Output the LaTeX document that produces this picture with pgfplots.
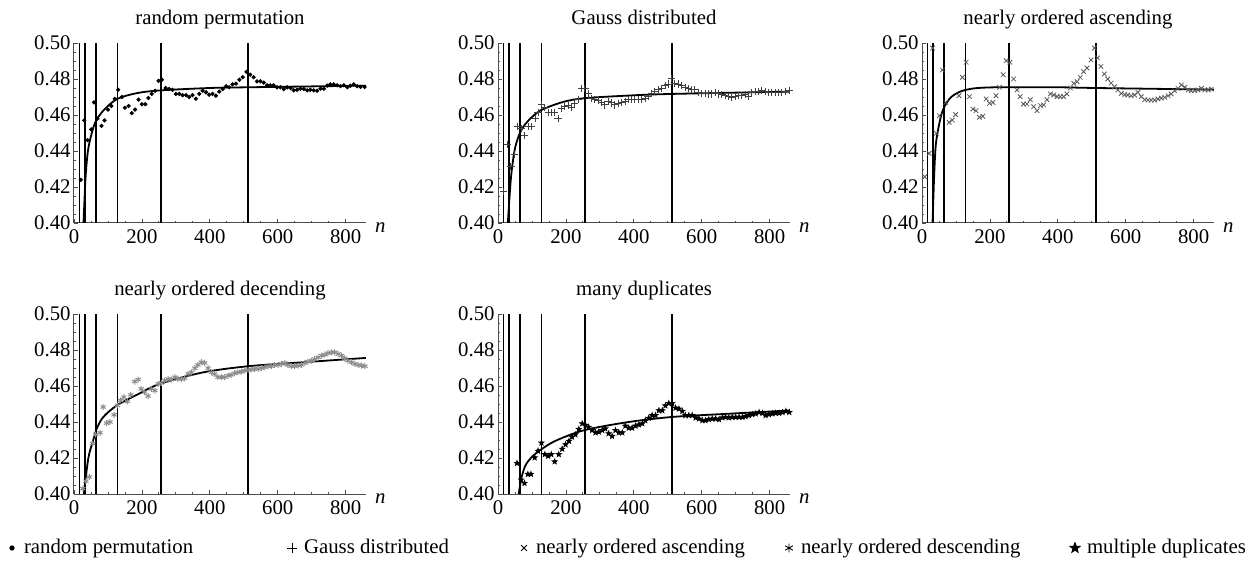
\documentclass[border=0pt]{standalone}
\usepackage{fontspec}
\setmainfont{Liberation Serif}
\usepackage{pgfplots}
\pgfplotsset{compat=1.18}
\usetikzlibrary{plotmarks}

\pgfdeclareplotmark{fstar}{%
  \pgfpathmoveto{\pgfpointpolar{90}{\pgfplotmarksize}}%
  \pgfpathlineto{\pgfpointpolar{126}{0.42\pgfplotmarksize}}%
  \pgfpathlineto{\pgfpointpolar{162}{\pgfplotmarksize}}%
  \pgfpathlineto{\pgfpointpolar{198}{0.42\pgfplotmarksize}}%
  \pgfpathlineto{\pgfpointpolar{234}{\pgfplotmarksize}}%
  \pgfpathlineto{\pgfpointpolar{270}{0.42\pgfplotmarksize}}%
  \pgfpathlineto{\pgfpointpolar{306}{\pgfplotmarksize}}%
  \pgfpathlineto{\pgfpointpolar{342}{0.42\pgfplotmarksize}}%
  \pgfpathlineto{\pgfpointpolar{18}{\pgfplotmarksize}}%
  \pgfpathlineto{\pgfpointpolar{54}{0.42\pgfplotmarksize}}%
  \pgfpathclose\pgfusepathqfillstroke}

\newcommand{\fs}{\fontsize{10.4}{12}\selectfont}

\pgfplotsset{
  every axis title/.style={at={(0.5,1)}, anchor=base, yshift=9pt, font=\fs},
  panel/.style={
    scale only axis, width=146pt, height=90pt,
    xmin=0, xmax=860, ymin=0.40, ymax=0.50,
    axis lines=left,
    axis line style={-, black!70, line width=0.5pt},
    xtick={0,200,400,600,800}, minor x tick num=3,
    ytick={0.40,0.42,0.44,0.46,0.48,0.50}, minor y tick num=3,
    tick align=inside, major tick length=2pt, minor tick length=1.2pt,
    tick style={black!70, line width=0.4pt},
    /pgf/number format/assume math mode=true,
    yticklabel style={/pgf/number format/fixed, /pgf/number format/fixed zerofill, /pgf/number format/precision=2, inner xsep=1.5pt},
    ticklabel style={font=\fs},
    extra x ticks={16,32,64,128,256,512}, extra x tick labels={},
    extra x tick style={grid=major, major grid style={black, line width=0.9pt}, major tick length=0pt},
    xlabel={\textit{n}},
    xlabel style={at={(rel axis cs:1,0)}, anchor=west, xshift=1pt, yshift=-2.5pt, font=\fs},
  },
  fit/.style={black, line width=0.9pt, smooth, no marks},
}

\begin{document}
\begin{tikzpicture}
\useasboundingbox (0,0) rectangle (627.5pt,281.5pt);

% ---------- Panel 1 ----------
\begin{axis}[panel, at={(37pt,170pt)}, anchor=south west, title={random permutation}]
\addplot[only marks, mark=*, mark size=0.85pt, black] coordinates {
(20,0.424)(30,0.457)(40,0.446)(51,0.452)(59,0.467)(69,0.458)(81,0.454)(90,0.457)(100,0.463)(110,0.465)
(120,0.469)(130,0.474)(141,0.470)(150,0.464)(161,0.465)(170,0.461)(180,0.463)(190,0.4685)(200,0.466)(210,0.466)
(219,0.4694)(229,0.4717)(239,0.4735)(249,0.479)(259,0.4796)(270,0.475)(280,0.4744)(290,0.474)(300,0.4717)(310,0.4717)
(320,0.471)(330,0.471)(339,0.470)(349,0.471)(359,0.469)(369,0.4717)(379,0.4735)(389,0.4726)(398,0.4713)(408,0.4717)
(418,0.4707)(428,0.473)(438,0.4744)(448,0.476)(457,0.4754)(467,0.477)(477,0.4774)(487,0.4796)(497,0.481)(508,0.484)
(519,0.4824)(529,0.481)(539,0.4787)(549,0.4787)(559,0.478)(569,0.4765)(578,0.4765)(588,0.4765)(598,0.4754)(608,0.4754)
(618,0.4744)(628,0.4754)(638,0.475)(647,0.4737)(657,0.474)(667,0.4746)(677,0.4744)(687,0.4737)(696,0.474)(706,0.4737)
(716,0.4735)(726,0.4746)(736,0.4746)(746,0.4763)(755,0.477)(765,0.477)(775,0.4765)(785,0.476)(795,0.4765)(805,0.4754)
(814,0.4763)(824,0.477)(834,0.476)(844,0.4756)(856,0.4756)};
\addplot[fit] coordinates {(28,0.40)(34,0.425)(41,0.44)(51,0.449)(64,0.4565)(89,0.463)(128,0.469)(187,0.4722)(256,0.4737)(400,0.475)(512,0.4754)(860,0.4763)};
\end{axis}

% ---------- Panel 2 ----------
\begin{axis}[panel, at={(249pt,170pt)}, anchor=south west, title={Gauss distributed}]
\addplot[only marks, mark=+, mark size=1.8pt, black!75, mark options={line width=0.45pt}] coordinates {
(17,0.4174)(29,0.4435)(38,0.4312)(48,0.438)(58,0.4537)(68,0.4527)(78,0.4487)(90,0.4538)(99,0.4538)(109,0.4579)
(118,0.4616)(128,0.4656)(138,0.4643)(148,0.4612)(157,0.4612)(167,0.4612)(177,0.4579)(187,0.4634)(197,0.4647)(207,0.4653)
(216,0.4643)(226,0.4662)(236,0.4686)(246,0.4748)(256,0.4745)(266,0.4717)(275,0.4693)(285,0.4686)(295,0.468)(305,0.4671)
(315,0.4656)(324,0.4675)(334,0.4667)(344,0.4656)(354,0.4662)(364,0.4671)(374,0.4675)(383,0.4686)(393,0.4684)(403,0.4684)
(413,0.4684)(423,0.4686)(433,0.469)(442,0.4704)(452,0.4721)(462,0.473)(472,0.4741)(482,0.4748)(492,0.4763)(501,0.4772)
(511,0.4804)(521,0.4776)(531,0.4772)(541,0.4763)(551,0.4754)(560,0.4745)(570,0.4741)(580,0.4741)(590,0.4726)(600,0.4721)
(610,0.4721)(619,0.4717)(629,0.4717)(639,0.4723)(649,0.4717)(659,0.4712)(669,0.4708)(678,0.4704)(688,0.4699)(698,0.4704)
(708,0.4708)(718,0.4708)(728,0.4712)(737,0.4704)(747,0.4726)(757,0.473)(767,0.473)(777,0.4736)(787,0.473)(796,0.4726)
(806,0.4723)(816,0.4723)(826,0.4726)(836,0.4726)(846,0.4732)(858,0.4736)};
\addplot[fit] coordinates {(29,0.40)(38,0.4248)(48,0.4395)(58,0.4468)(71,0.4524)(90,0.457)(125,0.4625)(189,0.4671)(253,0.4693)(385,0.4708)(511,0.4717)(860,0.473)};
\end{axis}

% ---------- Panel 3 ----------
\begin{axis}[panel, at={(461pt,170pt)}, anchor=south west, title={nearly ordered ascending}]
\addplot[only marks, mark=x, mark size=1.6pt, black!65, mark options={line width=0.4pt}] coordinates {
(8,0.4257)(21,0.4387)(31,0.4972)(42,0.4498)(51,0.4596)(60,0.485)(70,0.467)(80,0.4559)(89,0.4572)(99,0.4602)
(109,0.4707)(119,0.4809)(130,0.4893)(140,0.4702)(150,0.4633)(159,0.4624)(169,0.4587)(179,0.4593)(189,0.4689)(199,0.4665)
(209,0.467)(218,0.4707)(228,0.4754)(239,0.4824)(248,0.4902)(259,0.4893)(270,0.48)(280,0.4739)(289,0.4702)(299,0.4661)
(309,0.4661)(319,0.4685)(329,0.4646)(339,0.4624)(349,0.4652)(358,0.4656)(368,0.4685)(378,0.4717)(388,0.4711)(398,0.4702)
(407,0.4702)(417,0.4702)(427,0.4717)(437,0.475)(447,0.4776)(457,0.4785)(466,0.4809)(476,0.4841)(486,0.4861)(498,0.4906)
(508,0.4972)(517,0.4917)(527,0.487)(537,0.4828)(547,0.48)(557,0.4778)(567,0.4757)(577,0.4739)(587,0.472)(597,0.4713)
(606,0.4711)(616,0.4707)(626,0.4711)(636,0.4726)(646,0.4702)(656,0.4685)(666,0.4683)(675,0.4683)(685,0.4683)(695,0.4689)
(705,0.4694)(715,0.4698)(725,0.4707)(734,0.4717)(744,0.4735)(754,0.4748)(764,0.4767)(774,0.4754)(784,0.4739)(793,0.4735)
(803,0.4735)(813,0.4739)(823,0.4748)(833,0.4739)(843,0.4739)(852,0.4744)};
\addplot[fit] coordinates {(31,0.40)(36,0.4272)(40,0.442)(45,0.4494)(55,0.4587)(65,0.4643)(85,0.4698)(114,0.4731)(154,0.4748)(222,0.4754)(400,0.4754)(512,0.475)(860,0.4741)};
\end{axis}

% ---------- Panel 4 ----------
\begin{axis}[panel, at={(37pt,34.5pt)}, anchor=south west, title={nearly ordered decending},
  legend columns=5,
  legend style={at={(-0.2397,-0.3)}, anchor=west, draw=none, fill=none, inner sep=0pt, outer sep=0pt,
    column sep=0pt, font=\fs, nodes={inner sep=0pt}},
  legend cell align=left,
  legend image code/.code={\path[draw=none, fill=none] (0pt,-2pt) rectangle (10pt,2pt); \draw[#1] plot coordinates {(4pt,0pt)};},
]
\addlegendimage{only marks, mark=*, mark size=1.1pt, black}
\addlegendimage{only marks, mark=+, mark size=2.7pt, black, mark options={line width=0.5pt}}
\addlegendimage{only marks, mark=x, mark size=2.1pt, black, mark options={line width=0.5pt}}
\addlegendimage{only marks, mark=asterisk, mark size=2.2pt, black, mark options={line width=0.45pt}}
\addlegendimage{only marks, mark=fstar, mark size=2.7pt, black}
\legend{\makebox[130pt][l]{random permutation},\makebox[106pt][l]{Gauss distributed},\makebox[122.5pt][l]{nearly ordered ascending},\makebox[133pt][l]{nearly ordered descending},multiple duplicates}
\addplot[forget plot, only marks, mark=asterisk, mark size=1.5pt, black!45, mark options={line width=0.5pt}] coordinates {
(26,0.403)(35,0.4071)(45,0.4095)(55,0.428)(64,0.433)(77,0.434)(86,0.4483)(96,0.4394)(106,0.44)(118,0.444)
(128,0.4492)(137,0.452)(147,0.4538)(157,0.4514)(167,0.4551)(179,0.4625)(189,0.4636)(198,0.4584)(208,0.4566)(218,0.4544)
(228,0.4584)(238,0.4575)(248,0.4612)(257,0.4617)(267,0.463)(277,0.4639)(287,0.4636)(297,0.4649)(306,0.4639)(316,0.4639)
(326,0.4643)(336,0.4667)(346,0.4676)(356,0.4699)(365,0.4717)(375,0.4732)(385,0.4728)(395,0.4699)(405,0.4676)(414,0.4667)
(424,0.4649)(434,0.4649)(444,0.4649)(454,0.4658)(463,0.4662)(473,0.4671)(483,0.4676)(493,0.468)(503,0.4686)(513,0.4689)
(522,0.4691)(532,0.4695)(542,0.4695)(552,0.4699)(562,0.4704)(572,0.471)(581,0.471)(591,0.4717)(601,0.4717)(611,0.4723)
(621,0.4728)(630,0.4717)(640,0.471)(650,0.471)(660,0.4713)(670,0.4717)(680,0.4728)(689,0.4735)(699,0.4741)(709,0.475)
(719,0.4759)(729,0.4769)(739,0.4774)(748,0.4782)(758,0.4787)(768,0.4787)(778,0.4778)(788,0.4769)(797,0.4754)(807,0.4741)
(817,0.4732)(827,0.4723)(837,0.4717)(847,0.4713)(857,0.471)};
\addplot[fit, forget plot] coordinates {(29,0.40)(42,0.4197)(55,0.4289)(67,0.4363)(86,0.4427)(126,0.4492)(185,0.4551)(253,0.4612)(381,0.4676)(514,0.471)(676,0.4732)(860,0.4756)};
\end{axis}

% ---------- Panel 5 ----------
\begin{axis}[panel, at={(249pt,34.5pt)}, anchor=south west, title={many duplicates}]
\addplot[only marks, mark=fstar, mark size=1.3pt, black] coordinates {
(56,0.4171)(68,0.4079)(78,0.406)(88,0.411)(97,0.411)(108,0.4202)(118,0.4239)(128,0.4284)(138,0.422)(148,0.4211)
(157,0.422)(167,0.418)(179,0.422)(189,0.425)(199,0.4275)(209,0.4294)(218,0.4317)(228,0.433)(238,0.436)(248,0.4391)
(258,0.4382)(267,0.4372)(277,0.4354)(287,0.4341)(297,0.4345)(307,0.4354)(316,0.4363)(326,0.4336)(336,0.4321)(346,0.4354)
(356,0.4341)(366,0.4341)(375,0.4378)(385,0.4367)(395,0.4367)(405,0.4378)(415,0.4385)(425,0.4391)(434,0.4409)(444,0.4422)
(454,0.4437)(464,0.4437)(474,0.4464)(484,0.4464)(493,0.4491)(503,0.4504)(513,0.4504)(523,0.4478)(533,0.4473)(543,0.446)
(552,0.4437)(562,0.4437)(572,0.4437)(582,0.4424)(592,0.4418)(602,0.4409)(611,0.4409)(621,0.4414)(631,0.4418)(641,0.4418)
(651,0.4414)(661,0.4424)(670,0.4427)(680,0.4424)(690,0.4427)(700,0.4427)(710,0.4427)(720,0.4427)(729,0.4431)(739,0.4437)
(749,0.4442)(759,0.4446)(769,0.4454)(779,0.4449)(788,0.4437)(798,0.4442)(808,0.4446)(818,0.4449)(828,0.4449)(838,0.4454)
(848,0.446)(858,0.4454)};
\addplot[fit] coordinates {(61,0.40)(66,0.406)(71,0.4105)(80,0.4155)(90,0.4185)(105,0.4215)(125,0.4245)(169,0.4295)(253,0.4354)(385,0.44)(513,0.4428)(680,0.4446)(860,0.4464)};
\end{axis}
\end{tikzpicture}
\end{document}
